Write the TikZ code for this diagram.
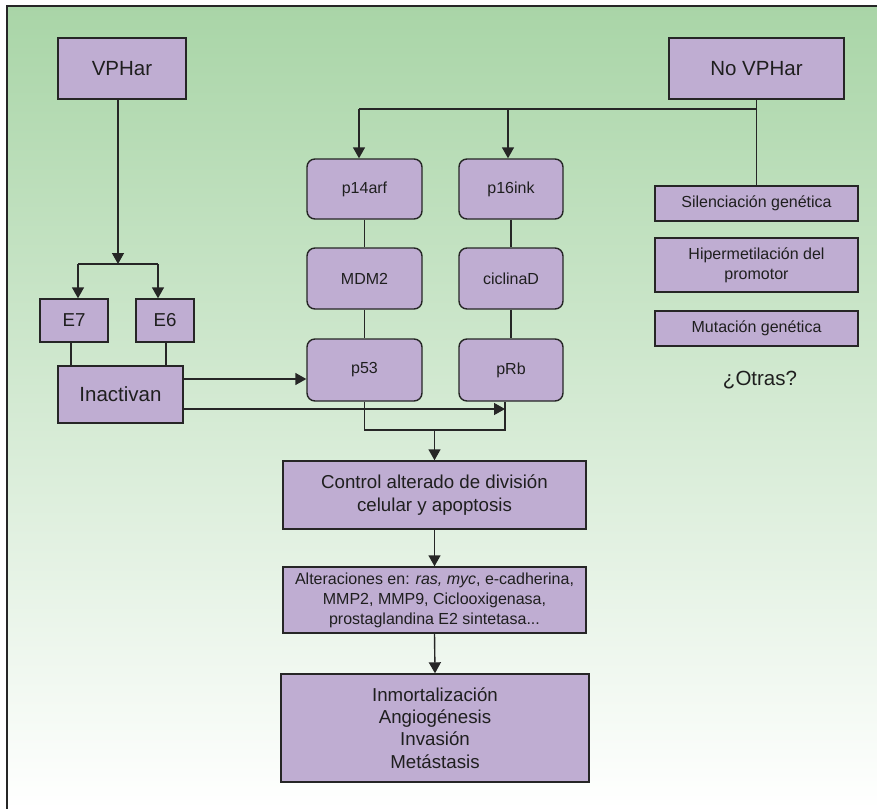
\documentclass[tikz,border=0pt]{standalone}
\usepackage{fontspec}
\setmainfont{Liberation Sans}
\usetikzlibrary{arrows.meta,calc}
\definecolor{boxc}{HTML}{BFADD2}
\definecolor{linec}{HTML}{262626}
\definecolor{txtc}{HTML}{1F1F1F}
\definecolor{greentop}{HTML}{A9D5A7}
\tikzset{
  box/.style={draw=linec, fill=boxc, line width=1.4pt, text=txtc, align=center, inner sep=0pt},
  rbox/.style={box, rounded corners=8pt},
  conn/.style={draw=linec, line width=1.4pt},
  arr/.style={conn, -{Triangle[length=11pt,width=12pt]}},
  fbig/.style={font=\fontsize{20.5}{24}\selectfont},
  fmid/.style={font=\fontsize{18.7}{22.5}\selectfont},
  fsmall/.style={font=\fontsize{16}{20}\selectfont},
}
\begin{document}
\begin{tikzpicture}[x=1pt,y=-1pt]
\useasboundingbox (0,0) rectangle (877,809);
\shade[top color=greentop, bottom color=white] (7,6) rectangle (877,809);
\draw[linec, line width=1.6pt] (877,6) -- (7,6) -- (7,809);

% top boxes
\node[box, fbig, minimum width=128pt, minimum height=61pt] (vphar) at (122,68.5) {VPHar};
\node[box, fbig, minimum width=175pt, minimum height=61pt] (novphar) at (756.5,68.5) {No VPHar};

% middle columns
\node[rbox, fsmall, minimum width=115pt, minimum height=60pt] (p14) at (364.5,189) {p14arf};
\node[rbox, fsmall, minimum width=104pt, minimum height=60pt] (p16) at (511,189) {p16ink};
\node[rbox, fsmall, minimum width=115pt, minimum height=61pt] (mdm2) at (364.5,278.5) {MDM2};
\node[rbox, fsmall, minimum width=104pt, minimum height=61pt] (cicl) at (511,278.5) {ciclinaD};
\node[rbox, fsmall, minimum width=115pt, minimum height=62pt] (p53) at (364.5,370) {p53};
\node[rbox, fsmall, minimum width=104pt, minimum height=62pt] (prb) at (511,370) {\raisebox{3pt}{pRb}};

% left branch
\node[box, fmid, minimum width=68pt, minimum height=43pt] (e7) at (74,320.5) {E7};
\node[box, fmid, minimum width=58pt, minimum height=43pt] (e6) at (165,320.5) {E6};
\node[box, fbig, minimum width=125pt, minimum height=57pt] (inact) at (120.5,394.5) {Inactivan};

% right column
\node[box, fsmall, minimum width=203pt, minimum height=35pt] (silen) at (756.5,203.5) {Silenciación genética};
\node[box, fsmall, minimum width=203pt, minimum height=54pt] (hiper) at (756.5,265) {Hipermetilación del\\promotor};
\node[box, fsmall, minimum width=203pt, minimum height=35pt] (mut) at (756.5,328.5) {Mutación genética};
\node[fbig, text=txtc, inner sep=0pt] (otras) at (760,380) {¿Otras?};

% bottom column
\node[box, fmid, minimum width=303pt, minimum height=68pt] (ctrl) at (434.5,495) {Control alterado de división\\celular y apoptosis};
\node[box, fsmall, minimum width=303pt, minimum height=66pt] (alter) at (434.5,600) {Alteraciones en: \textit{ras, myc}, e-cadherina,\\MMP2, MMP9, Ciclooxigenasa,\\prostaglandina E2 sintetasa...};
\node[box, fmid, minimum width=308pt, minimum height=108pt, font=\fontsize{18.7}{22.3}\selectfont] (inmort) at (435,728) {Inmortalización\\Angiogénesis\\Invasión\\Metástasis};

% coordinates
\coordinate (sp) at (118,264);
\coordinate (spl) at (78,264);
\coordinate (spr) at (158,264);
\coordinate (top) at (757,109);
\coordinate (tl) at (359,109);
\coordinate (tr) at (508,109);
\coordinate (ia) at (183,379);
\coordinate (ib) at (183,409);
\coordinate (rb) at (505,430);
\coordinate (pl) at (364.5,430);
\coordinate (mg) at (434.5,430);

% VPHar branch
\draw[arr] (vphar.south -| sp) -- (sp);
\draw[conn] (spl) -- (spr);
\draw[arr] (spl) -- (spl |- e7.north);
\draw[arr] (spr) -- (spr |- e6.north);
\draw[conn] ([xshift=-3pt]e7.south) -- ([xshift=-3pt]e7.south |- inact.north);
\draw[conn] ([xshift=1pt]e6.south) -- ([xshift=1pt]e6.south |- inact.north);
\draw[arr] (ia) -- (ia -| p53.west);
\draw[arr] (ib) -- (ib -| rb);

% No VPHar branch
\draw[conn] (novphar.south) -- (silen.north);
\draw[conn] (top) -- (tl);
\draw[arr] (tl) -- (tl |- p14.north);
\draw[arr] (tr) -- (tr |- p16.north);

% columns
\draw[conn] (p14) -- (mdm2);
\draw[conn] (mdm2) -- (p53);
\draw[conn] (p16) -- (cicl);
\draw[conn] (cicl) -- (prb);
\draw[conn] (p53.south) -- (pl) -- (rb) -- (rb |- prb.south);
\draw[arr] (mg) -- (ctrl.north);
\draw[arr] (ctrl.south) -- (alter.north);
\draw[arr] (alter.south) -- (inmort.north);
\end{tikzpicture}
\end{document}
